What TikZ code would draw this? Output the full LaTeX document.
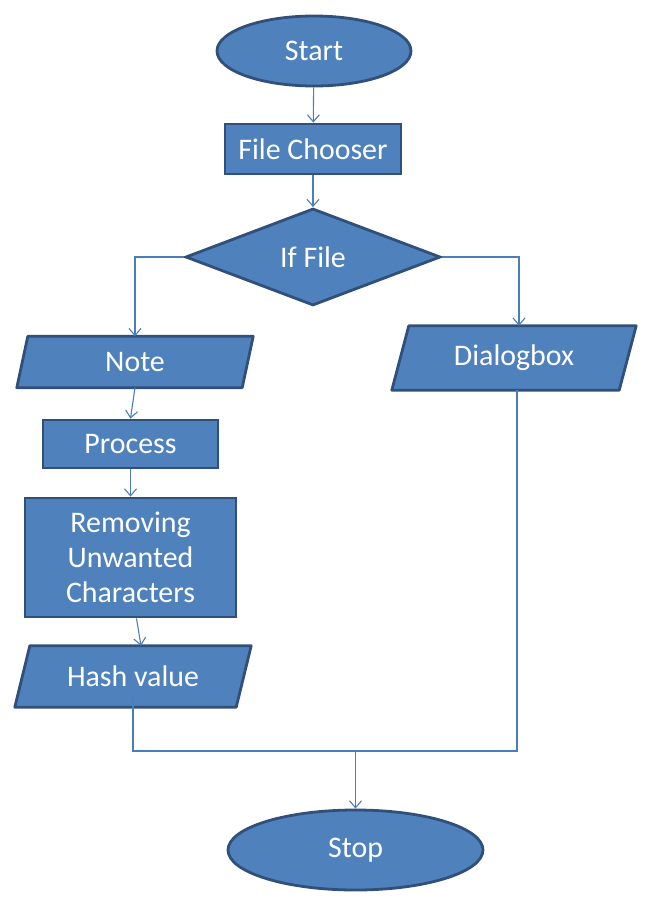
\documentclass[tikz,border=0pt]{standalone}
\usepackage{fontspec}
\setmainfont{Carlito}
\usetikzlibrary{shapes.geometric,arrows.meta,backgrounds}
\definecolor{fillblue}{HTML}{4F81BD}
\definecolor{edgeblue}{HTML}{30507A}
\definecolor{linkblue}{HTML}{4A7EBB}
\begin{document}
\begin{tikzpicture}[x=1bp,y=-1bp,
  shapebox/.style={fill=fillblue,draw=edgeblue,line width=2.8bp,text=white,font=\fontsize{30}{35}\selectfont,inner sep=0pt},
  termbox/.style={shapebox,ellipse},
  procbox/.style={shapebox,rectangle},
  decbox/.style={shapebox,diamond,aspect=2.63},
  iobox/.style={rectangle,text=white,font=\fontsize{30}{35}\selectfont,inner sep=0pt},
  para/.style={fill=fillblue,draw=edgeblue,line width=2.8bp,line join=round},
  link/.style={draw=linkblue,line width=1.1bp,-{Straight Barb[length=7bp,width=12bp]}},
  plain/.style={draw=linkblue,line width=1.1bp}]
\useasboundingbox (0,0) rectangle (656,903);

\node[termbox,minimum width=194bp,minimum height=70bp] (start) at (314,51) {Start};
\node[procbox,minimum width=176bp,minimum height=50bp] (chooser) at (313,149) {File Chooser};
\node[decbox,minimum width=255bp,minimum height=97bp] (iffile) at (313,257) {If File};
\node[iobox,minimum width=236bp,minimum height=51bp] (note) at (135,362) {\raisebox{-4bp}{Note}};
\node[iobox,minimum width=244bp,minimum height=64bp] (dialog) at (514,358) {Dialogbox};
\node[procbox,minimum width=175bp,minimum height=48bp] (process) at (130.5,444) {Process};
\node[procbox,minimum width=211bp,minimum height=119bp,align=center] (removing) at (130.5,557.5) {Removing\\Unwanted\\Characters};
\node[iobox,minimum width=236bp,minimum height=61bp] (hash) at (133,676.5) {\raisebox{-3bp}{Hash value}};
\node[termbox,minimum width=255bp,minimum height=80bp] (stop) at (355.5,850) {Stop};

\begin{pgfonlayer}{background}
\draw[para] ([xshift=11bp]note.north west) -- (note.north east) -- ([xshift=-11bp]note.south east) -- (note.south west) -- cycle;
\draw[para] ([xshift=17bp]dialog.north west) -- (dialog.north east) -- ([xshift=-17bp]dialog.south east) -- (dialog.south west) -- cycle;
\draw[para] ([xshift=15bp]hash.north west) -- (hash.north east) -- ([xshift=-15bp]hash.south east) -- (hash.south west) -- cycle;
\end{pgfonlayer}

\coordinate (join) at (355.5,751);
\draw[link] (start) -- (chooser);
\draw[link] (chooser) -- (iffile);
\draw[link] (iffile.west) -| (note.north);
\draw[link] (iffile.east) -| ([xshift=5bp]dialog.north);
\draw[link] (note.south) -- (process.north);
\draw[link] (process) -- (removing);
\draw[link] ([xshift=6bp]removing.south) -- ([xshift=8bp]hash.north);
\draw[plain] ([yshift=12bp]hash.south) |- (join);
\draw[plain] ([xshift=3bp]dialog.south) |- (join);
\draw[link] (join) -- (stop);
\end{tikzpicture}
\end{document}
